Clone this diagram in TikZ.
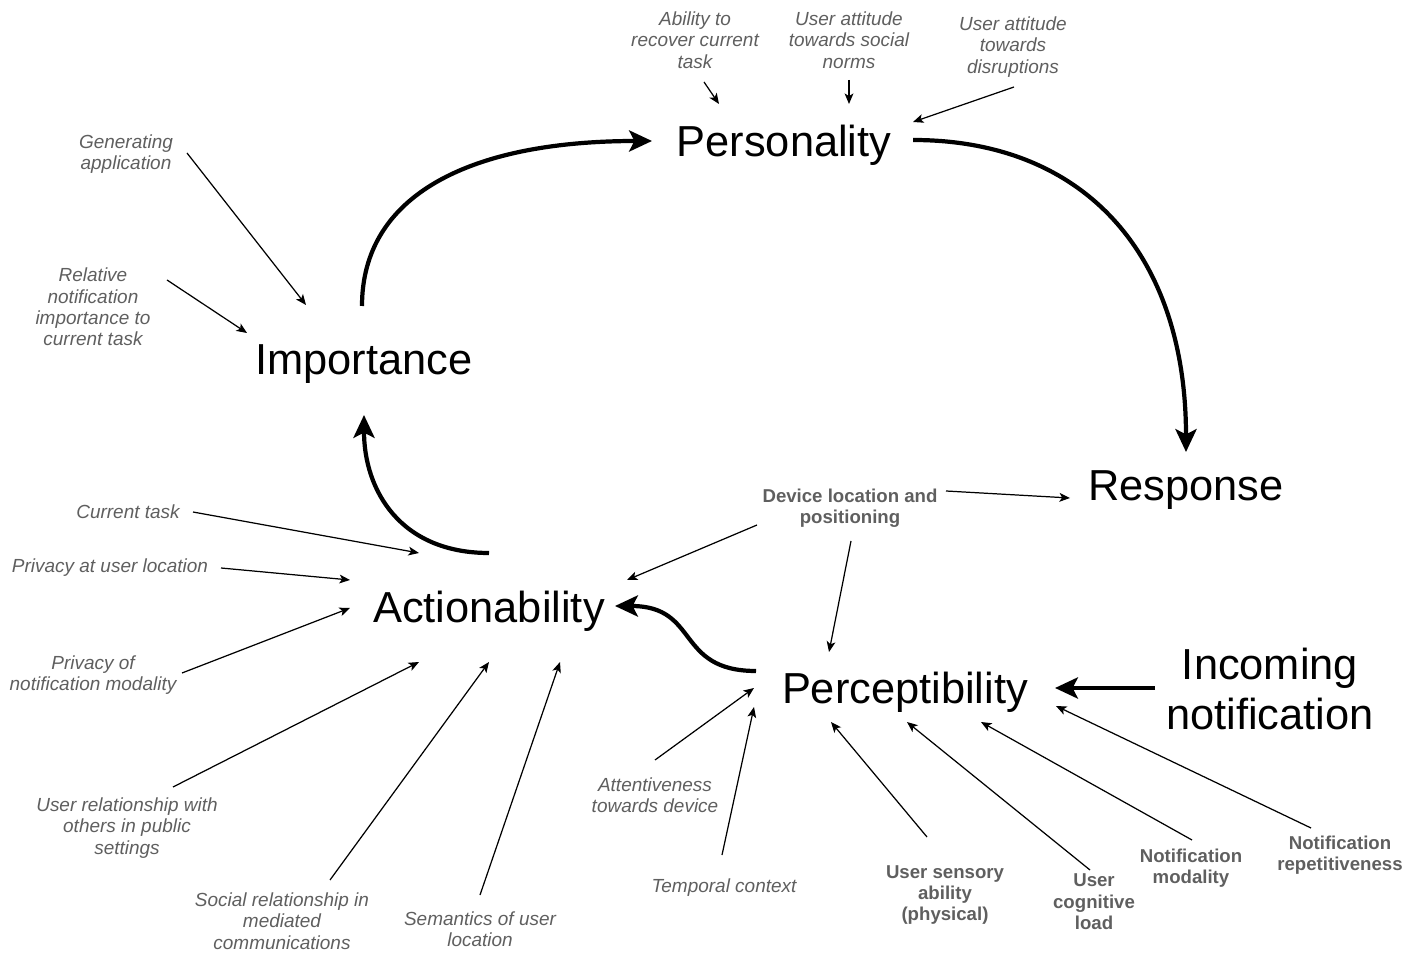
\documentclass[tikz,border=0pt]{standalone}
\usepackage{fontspec}
\setmainfont{Liberation Sans}
\usetikzlibrary{arrows.meta}
\definecolor{factorgray}{RGB}{95,95,95}
\begin{document}
\begin{tikzpicture}[x=0.02cm,y=-0.02cm,
  concept/.style={font=\fontsize{24.7}{28.3}\selectfont, align=center, inner sep=0pt},
  factor/.style={font=\fontsize{10.8}{12.2}\selectfont\itshape, text=factorgray, align=center, inner sep=0pt},
  bfactor/.style={font=\fontsize{10.6}{12.2}\selectfont\bfseries, text=factorgray, align=center, inner sep=0pt},
  thin/.style={line width=0.7pt, -{Stealth[length=6pt,width=5pt,inset=1.5pt]}},
  thick/.style={line width=2.4pt, -{Stealth[length=13pt,width=12pt,inset=3pt]}}]
\useasboundingbox (0,0) rectangle (1406,955);

% main concepts
\node[concept] (pers) at (784,145) {Personality};
\node[concept] (imp)  at (364,364) {Importance};
\node[concept] (resp) at (1186,490) {Response};
\node[concept] (act)  at (489,611) {Actionability};
\node[concept] (perc) at (905,692) {Perceptibility};
\node[concept] (inc)  at (1270,689) {Incoming\\notification};

% influencing factors
\node[factor] (f1)  at (695,40)  {Ability to\\recover current\\task};
\node[factor] (f2)  at (849,40)  {User attitude\\towards social\\norms};
\node[factor] (f3)  at (1013,47) {User attitude\\towards\\disruptions};
\node[factor] (f4)  at (126,154) {Generating\\application};
\node[factor] (f5)  at (93,307)  {Relative\\notification\\importance to\\current task};
\node[factor] (f6)  at (128,512) {Current task};
\node[factor] (f7)  at (110,568) {Privacy at user location};
\node[factor] (f8)  at (93,675)  {Privacy of\\notification modality};
\node[factor] (f9)  at (127,828) {User relationship with\\others in public\\settings};
\node[factor] (f10) at (282,921) {Social relationship in\\mediated\\communications};
\node[factor] (f11) at (480,929) {Semantics of user\\location};
\node[factor] (f12) at (655,795) {Attentiveness\\towards device};
\node[factor] (f13) at (724,888) {Temporal context};
\node[bfactor] (f14) at (945,895) {User sensory\\ability\\(physical)};
\node[bfactor] (f15) at (1094,902) {User\\cognitive\\load};
\node[bfactor] (f16) at (1191,868) {Notification\\modality};
\node[bfactor] (f17) at (1340,855) {Notification\\repetitiveness};
\node[bfactor] (dev) at (850,508) {Device location and\\positioning};

% arrow end points
\coordinate (s1) at (704,82);   \coordinate (e1) at (719,104);
\coordinate (s2) at (849,80);   \coordinate (e2) at (849,104);
\coordinate (s3) at (1014,87);  \coordinate (e3) at (913,122);
\coordinate (s4) at (187,153);  \coordinate (e4) at (306,305);
\coordinate (s5) at (167,280);  \coordinate (e5) at (247,333);
\coordinate (s6) at (193,512);  \coordinate (e6) at (419,553);
\coordinate (s7) at (221,568);  \coordinate (e7) at (350,580);
\coordinate (s8) at (182,673);  \coordinate (e8) at (350,608);
\coordinate (s9) at (173,787);  \coordinate (e9) at (419,662);
\coordinate (s10) at (330,880); \coordinate (e10) at (489,662);
\coordinate (s11) at (480,895); \coordinate (e11) at (560,662);
\coordinate (s12) at (655,760); \coordinate (e12) at (754,688);
\coordinate (s13) at (722,855); \coordinate (e13) at (754,707);
\coordinate (s14) at (927,837); \coordinate (e14) at (831,722);
\coordinate (s15) at (1090,870);\coordinate (e15) at (907,722);
\coordinate (s16) at (1192,840);\coordinate (e16) at (981,722);
\coordinate (s17) at (1311,828);\coordinate (e17) at (1056,706);
\coordinate (da) at (946,491);  \coordinate (dr) at (1070,498);
\coordinate (db) at (757,525);  \coordinate (dact) at (627,580);
\coordinate (dc) at (851,541);  \coordinate (dperc) at (829,652);

\foreach \i in {1,...,17} \draw[thin] (s\i) -- (e\i);
\draw[thin] (da) -- (dr);
\draw[thin] (db) -- (dact);
\draw[thin] (dc) -- (dperc);

% main flow
\coordinate (impout) at (362,306);  \coordinate (persin) at (652,141);
\coordinate (persout) at (913,140); \coordinate (respin) at (1186,452);
\coordinate (actout) at (489,553);  \coordinate (impin) at (364,415);
\coordinate (percout) at (756,671); \coordinate (actin) at (615,606);
\coordinate (incout) at (1155,688); \coordinate (percin) at (1055,688);

\draw[thick] (impout) .. controls (362,195) and (470,141) .. (persin);
\draw[thick] (persout) .. controls (1085,140) and (1186,255) .. (respin);
\draw[thick] (actout) .. controls (400,553) and (364,490) .. (impin);
\draw[thick] (percout) .. controls (675,671) and (700,606) .. (actin);
\draw[thick] (incout) -- (percin);
\end{tikzpicture}
\end{document}
